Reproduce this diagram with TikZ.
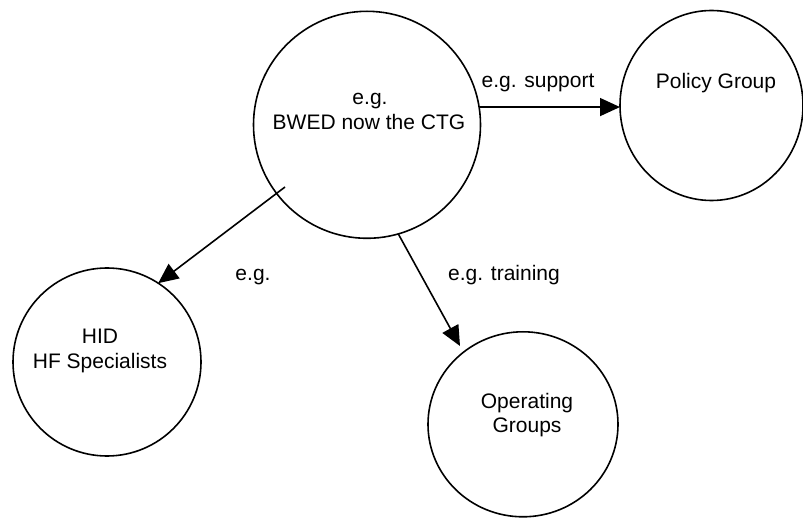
\documentclass[tikz,border=0pt]{standalone}
\usepackage{fontspec}
\setmainfont{Liberation Sans}
\usetikzlibrary{arrows.meta,shapes.geometric}
\begin{document}
\begin{tikzpicture}[x=1pt,y=-1pt,
  group/.style={draw, line width=1.6pt, inner sep=0pt, outer sep=0pt},
  txt/.style={anchor=base, inner sep=0pt, font=\fontsize{21}{24.5}\selectfont},
  link/.style={line width=1.6pt, -{Triangle[length=20pt,width=18pt]}}]
\useasboundingbox (0,0) rectangle (803,518);

% groups
\node[group, circle, minimum size=227pt] (ctg) at (367,124.8) {};
\node[group, ellipse, minimum width=183pt, minimum height=190pt] (policy) at (711.5,105.5) {};
\node[group, circle, minimum size=188pt] (hid) at (107,362) {};
\node[group, ellipse, minimum width=190pt, minimum height=185pt] (ops) at (523,424.3) {};

% names inside the groups
\node[txt] (ctgA) at (370,104.3) {e.g.};
\node[txt] (ctgB) at (369,129.3) {BWED now the CTG};
\node[txt] (policyT) at (716,88.3) {Policy Group};
\node[txt] (hidA) at (100,344) {HID};
\node[txt] (hidB) at (100,368.3) {HF Specialists};
\node[txt] (opsA) at (527,408.3) {Operating};
\node[txt] (opsB) at (527,432.7) {Groups};

% connectors
\coordinate (hidStart) at (285,187);
\coordinate (opsTip) at (460,346);
\draw[link] (ctg.9.1) -- (ctg.9.1 -| policy.west);
\draw[link] (hidStart) -- (hid.57.8);
\draw[link] (ctg.-74.5) -- (opsTip);

% connector labels
\node[txt] (supportL) at (538,87.3) {e.g. support};
\node[txt] (hidL) at (253,280.7) {e.g.};
\node[txt] (trainL) at (504,280.7) {e.g. training};
\end{tikzpicture}
\end{document}
